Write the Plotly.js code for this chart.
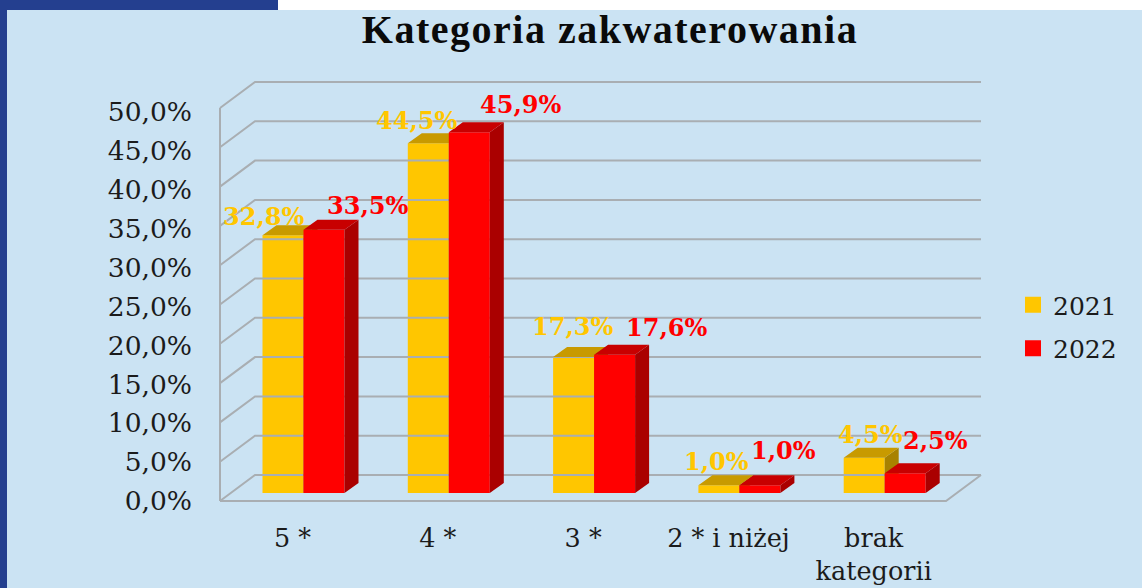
<!DOCTYPE html>
<html><head><meta charset="utf-8">
<script src="https://cdn.plot.ly/plotly-3.0.1.min.js"></script>
<style>
html,body{margin:0;padding:0;background:#fff;width:1144px;height:588px;overflow:hidden}
#navy{position:absolute;left:0;top:0;width:278px;height:588px;background:#243f8f}
#pane{position:absolute;left:7px;top:10px;width:1135px;height:578px;background:#cbe3f3}
#chart{position:absolute;left:0;top:0;width:1144px;height:588px}
.gtitle{letter-spacing:1.5px}
</style></head><body>
<div id="navy"></div><div id="pane"></div><div id="chart"></div>
<script>
const categories = ['5 *','4 *','3 *','2 * i niżej','brak<br>kategorii'];
const values2021 = [32.8,44.5,17.3,1.0,4.5];
const values2022 = [33.5,45.9,17.6,1.0,2.5];
const seriesNames = ['2021','2022'];
const yTicks = [0,5,10,15,20,25,30,35,40,45,50];
const labelShift2021 = [[-20,19],[-12,23],[-1,31],[-2,24],[6,23]];
const labelShift2022 = [[43,24],[51,28],[52,27],[24,35],[30,33]];

const pxX = 145.3, pxY = 7.86;
const barW = 41/pxX, depX = 14/pxX, depY = 10/pxY;
const wallFL = (220-303.5)/pxX, wallFR = (946-303.5)/pxX;
const wallDX = 35/pxX, wallF = -8/pxY, wallB = 18/pxY;
const tickScale = 0.99;
const idx = categories.map((c,i)=>i);
const fmt = v => v.toFixed(1).replace('.',',')+'%';

const gx=[],gy=[];
yTicks.forEach(v=>{gx.push(wallFL,wallFL+wallDX,wallFR+wallDX,null);gy.push(v+wallF,v+wallB,v+wallB,null);});
gx.push(wallFL,wallFL,null,wallFL,wallFR,wallFR+wallDX);
gy.push(wallF,50+wallF,null,wallF,wallF,wallB);
const walls={type:'scatter',mode:'lines',x:gx,y:gy,line:{color:'#a9aeb2',width:2},hoverinfo:'skip',showlegend:false,xaxis:'x',yaxis:'y'};

function faces(vals,off,ax,ay,cTop,cSide,front,name){
  const tx=[],ty=[],sx=[],sy=[];
  vals.forEach((v,i)=>{
    const l=i+off,r=l+barW;
    tx.push(l,r,r+depX,l+depX,l,null);ty.push(v,v,v+depY,v+depY,v,null);
    sx.push(r,r+depX,r+depX,r,r,null);sy.push(0,depY,v+depY,v,0,null);
  });
  const base={type:'scatter',mode:'lines',fill:'toself',line:{width:0},hoverinfo:'skip',showlegend:false,xaxis:ax,yaxis:ay};
  return [
    Object.assign({},base,{x:sx,y:sy,fillcolor:cSide}),
    Object.assign({},base,{x:tx,y:ty,fillcolor:cTop}),
    {type:'bar',x:idx,y:vals,width:barW,offset:off,marker:{color:front,line:{width:0}},hoverinfo:'skip',showlegend:false,xaxis:ax,yaxis:ay},
    {type:'scatter',mode:'markers',x:[null],y:[null],name:name,legendgroup:name,marker:{symbol:'square',size:16,color:front},xaxis:ax,yaxis:ay}
  ];
}
const traces=[walls]
 .concat(faces(values2021,-barW,'x','y','#c89a00','#a88200','#ffc600',seriesNames[0]))
 .concat(faces(values2022,0,'x2','y2','#c80000','#aa0000','#ff0000',seriesNames[1]));

function labels(vals,off,shift,color){
  return vals.map((v,i)=>({xref:'x',yref:'y',x:i+off+barW/2,y:v,text:fmt(v),showarrow:false,
    xshift:shift[i][0],yshift:shift[i][1],xanchor:'center',yanchor:'middle',
    font:{family:'DejaVu Serif',size:24,color:color,weight:700}}));
}
const xr=[(193-303.5)/pxX,(1000-303.5)/pxX], yr=[(493-510)/pxY,(493-70)/pxY];
const layout={
  width:1144,height:588,autosize:false,
  margin:{l:193,r:144,t:70,b:78,pad:0},
  paper_bgcolor:'rgba(0,0,0,0)',plot_bgcolor:'rgba(0,0,0,0)',
  title:{text:'<b>Kategoria zakwaterowania</b>',x:610/1144,xanchor:'center',y:1-29/588,yanchor:'middle',
    font:{family:'Liberation Serif',size:40,color:'#0a0a0a'}},
  xaxis:{type:'linear',range:xr,tickmode:'array',tickvals:idx.map(i=>i-11/pxX),ticktext:categories,
    showgrid:false,zeroline:false,showline:false,ticks:'outside',ticklen:5,tickcolor:'rgba(0,0,0,0)',
    tickfont:{family:'DejaVu Serif',size:25.5,color:'#1b1b1b'}},
  yaxis:{type:'linear',range:yr,tickmode:'array',tickvals:yTicks.map(v=>v*tickScale+wallF),ticktext:yTicks.map(fmt),
    showgrid:false,zeroline:false,showline:false,ticks:'',
    tickfont:{family:'DejaVu Serif',size:26.5,color:'#1b1b1b'}},
  xaxis2:{type:'linear',range:xr,overlaying:'x',anchor:'y2',visible:false},
  yaxis2:{type:'linear',range:yr,overlaying:'y',anchor:'x2',visible:false},
  legend:{x:(1013-193)/807,xanchor:'left',y:(510-282)/440,yanchor:'top',bgcolor:'rgba(0,0,0,0)',
    tracegroupgap:8,font:{family:'DejaVu Serif',size:25,color:'#1b1b1b'}},
  annotations:labels(values2021,-barW,labelShift2021,'#ffc600').concat(labels(values2022,0,labelShift2022,'#ff0000')),
  hovermode:false,showlegend:true
};
Plotly.newPlot('chart',traces,layout,{displayModeBar:false,staticPlot:true});
</script></body></html>
